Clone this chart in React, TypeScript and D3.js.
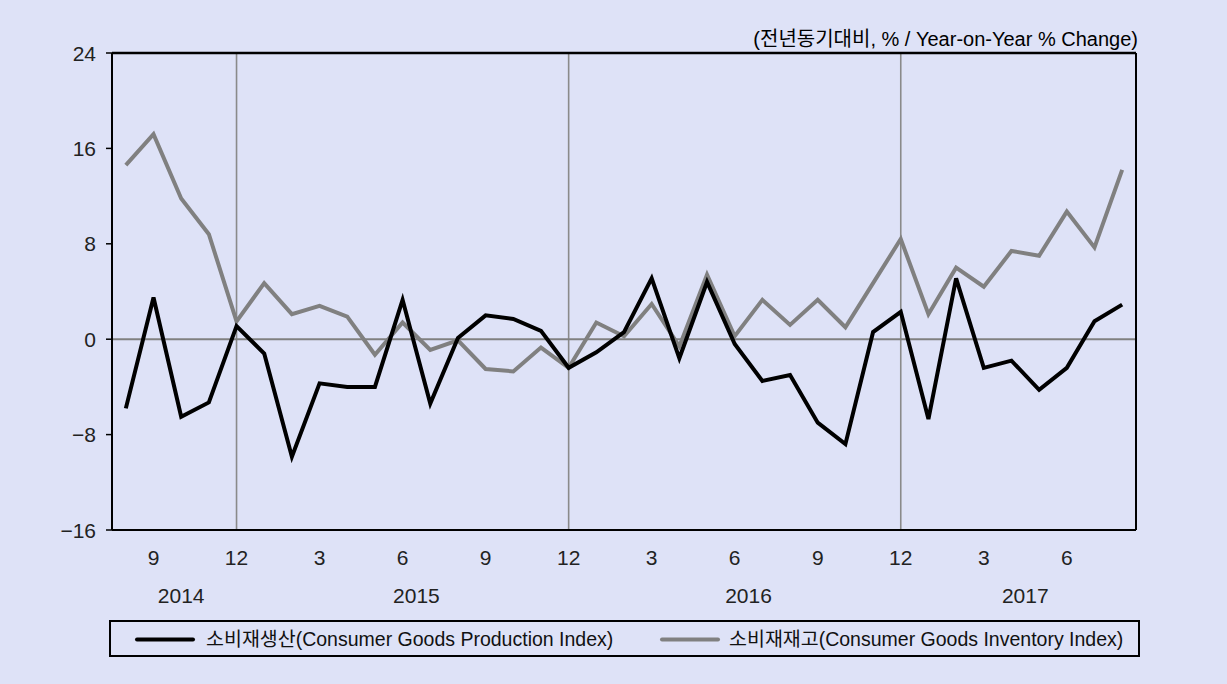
import React from "react";
import * as d3 from "d3";

const months: string[] = [
  "2014-08","2014-09","2014-10","2014-11","2014-12",
  "2015-01","2015-02","2015-03","2015-04","2015-05","2015-06","2015-07","2015-08","2015-09","2015-10","2015-11","2015-12",
  "2016-01","2016-02","2016-03","2016-04","2016-05","2016-06","2016-07","2016-08","2016-09","2016-10","2016-11","2016-12",
  "2017-01","2017-02","2017-03","2017-04","2017-05","2017-06","2017-07","2017-08",
];

const production: number[] = [
  -5.8, 3.5, -6.5, -5.3, 1.1,
  -1.2, -9.85, -3.7, -4.0, -4.0, 3.3, -5.4, 0.1, 2.0, 1.7, 0.7, -2.4,
  -1.1, 0.6, 5.1, -1.6, 4.8, -0.4, -3.5, -3.0, -7.0, -8.8, 0.6, 2.3,
  -6.7, 5.1, -2.4, -1.8, -4.25, -2.4, 1.5, 2.9,
];

const inventory: number[] = [
  14.6, 17.2, 11.8, 8.8, 1.5,
  4.7, 2.1, 2.8, 1.9, -1.3, 1.4, -0.9, -0.1, -2.5, -2.7, -0.7, -2.4,
  1.4, 0.25, 2.95, -0.6, 5.4, 0.25, 3.3, 1.2, 3.3, 1.0, 4.7, 8.4,
  2.1, 6.0, 4.4, 7.4, 7.0, 10.7, 7.7, 14.2,
];

const yTicks: number[] = [24, 16, 8, 0, -8, -16];
const monthTicks: number[] = [9, 12, 3, 6];
const years: string[] = ["2014", "2015", "2016", "2017"];
const gridMonth = 12;

const unitLabel = "(전년동기대비, % / Year-on-Year % Change)";
const seriesNames: string[] = [
  "소비재생산(Consumer Goods Production Index)",
  "소비재재고(Consumer Goods Inventory Index)",
];
const seriesColors: string[] = ["#000000", "#808080"];

const W = 1227;
const H = 684;
const BG = "#dee2f7";
const FONT = "'Liberation Sans', Arial, 'Noto Sans CJK KR', sans-serif";

export default function App() {
  const left = 112, right = 1136, top = 53, bottom = 530;
  const x = d3.scaleBand<string>().domain(months).range([left, right]).padding(0);
  const y = d3.scaleLinear().domain([-16, 24]).range([bottom, top]);
  const cx = (m: string) => (x(m) as number) + x.bandwidth() / 2;

  const line = d3
    .line<number>()
    .x((_, i) => cx(months[i]))
    .y((v) => y(v));

  const monthNum = (m: string) => +m.slice(5);
  const yearOf = (m: string) => m.slice(0, 4);

  const gridMonths = months.filter((m) => monthNum(m) === gridMonth);
  const labelMonths = months.filter((m) => monthTicks.includes(monthNum(m)));

  const yearPos = years.map((yr) => {
    const ms = months.filter((m) => yearOf(m) === yr);
    const x0 = x(ms[0]) as number;
    const x1 = (x(ms[ms.length - 1]) as number) + x.bandwidth();
    return { yr, cx: (x0 + x1) / 2 };
  });

  return (
    <svg
      width={W}
      height={H}
      style={{ position: "absolute", left: 0, top: 0, display: "block" }}
      fontFamily={FONT}
    >
      <rect x={0} y={0} width={W} height={H} fill={BG} />

      {/* unit label */}
      <text x={1138} y={46} textAnchor="end" fontSize={20} fill="#000">
        {unitLabel}
      </text>

      {/* vertical grid lines at December */}
      {gridMonths.map((m) => (
        <line key={m} x1={cx(m)} x2={cx(m)} y1={top} y2={bottom} stroke="#8a8a8a" strokeWidth={1.6} />
      ))}

      {/* zero line */}
      <line x1={left} x2={right} y1={y(0)} y2={y(0)} stroke="#808080" strokeWidth={2} />

      {/* series */}
      <path d={line(inventory) || ""} fill="none" stroke={seriesColors[1]} strokeWidth={4} strokeLinejoin="miter" />
      <path d={line(production) || ""} fill="none" stroke={seriesColors[0]} strokeWidth={4} strokeLinejoin="miter" />

      {/* frame */}
      <line x1={left} x2={right} y1={top} y2={top} stroke="#000" strokeWidth={2.5} />
      <line x1={left} x2={right} y1={bottom} y2={bottom} stroke="#000" strokeWidth={2} />
      <line x1={left} x2={left} y1={top} y2={bottom} stroke="#000" strokeWidth={2} />
      <line x1={right} x2={right} y1={top} y2={bottom} stroke="#000" strokeWidth={2} />

      {/* y axis ticks and labels */}
      {yTicks.map((t) => (
        <g key={t}>
          <line x1={left - 6} x2={left} y1={y(t)} y2={y(t)} stroke="#000" strokeWidth={1.5} />
          <text x={96} y={y(t)} dy="0.36em" textAnchor="end" fontSize={21} fill="#222">
            {t < 0 ? `\u2212${Math.abs(t)}` : `${t}`}
          </text>
        </g>
      ))}

      {/* x month labels */}
      {labelMonths.map((m) => (
        <text key={m} x={cx(m)} y={565} textAnchor="middle" fontSize={21} fill="#222">
          {monthNum(m)}
        </text>
      ))}

      {/* year labels */}
      {yearPos.map((p) => (
        <text key={p.yr} x={p.cx} y={603} textAnchor="middle" fontSize={21} fill="#222">
          {p.yr}
        </text>
      ))}

      {/* legend */}
      <rect x={110} y={621} width={1029} height={35} fill="none" stroke="#000" strokeWidth={2} />
      <line x1={137} x2={193} y1={639.5} y2={639.5} stroke={seriesColors[0]} strokeWidth={4} strokeLinecap="round" />
      <text x={206} y={646} fontSize={19.5} fill="#111">{seriesNames[0]}</text>
      <line x1={662} x2={718} y1={639.5} y2={639.5} stroke={seriesColors[1]} strokeWidth={4} strokeLinecap="round" />
      <text x={729} y={646} fontSize={19.5} fill="#111">{seriesNames[1]}</text>
    </svg>
  );
}
